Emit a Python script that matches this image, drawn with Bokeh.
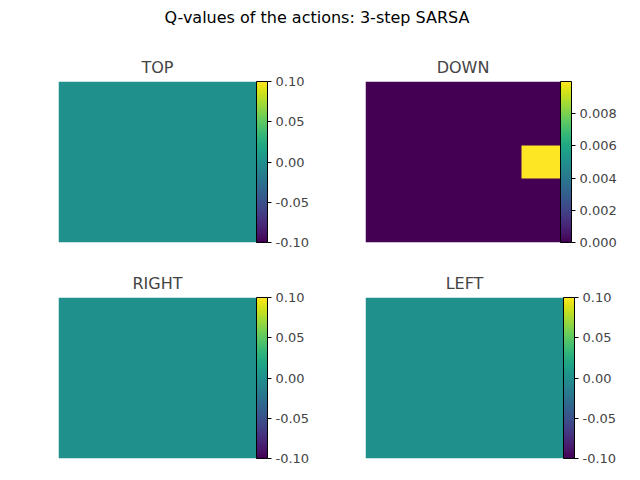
import numpy as np
from bokeh.plotting import figure
from bokeh.models import LinearColorMapper, ColorBar, FixedTicker, PrintfTickFormatter, Div
from bokeh.layouts import column, row
from bokeh.palettes import Viridis256
from bokeh.embed import file_html
from bokeh.resources import INLINE

titles = ["TOP", "DOWN", "RIGHT", "LEFT"]
q_top = np.zeros((5, 5))
q_down = np.zeros((5, 5)); q_down[2, 4] = 0.01
q_right = np.zeros((5, 5))
q_left = np.zeros((5, 5))
grids = [q_top, q_down, q_right, q_left]
lows = [-0.1, 0.0, -0.1, -0.1]
highs = [0.1, 0.01, 0.1, 0.1]
ticks = [[-0.1, -0.05, 0, 0.05, 0.1], [0, 0.002, 0.004, 0.006, 0.008],
         [-0.1, -0.05, 0, 0.05, 0.1], [-0.1, -0.05, 0, 0.05, 0.1]]
fmts = ["%.2f", "%.3f", "%.2f", "%.2f"]

figs = []
for i in range(4):
    left = 58 if i % 2 == 0 else 53
    bottom = 24 if i < 2 else 14
    w = left + 171 + 83
    h = 22 + 170 + bottom
    p = figure(width=w, height=h, x_range=(0, 5), y_range=(0, 5),
               output_backend="svg", toolbar_location=None,
               min_border_left=left, min_border_right=0, min_border_top=0,
               min_border_bottom=bottom, title=titles[i])
    p.title.text_font_size = "16px"
    p.title.text_font_style = "normal"
    p.title.align = "center"
    p.title.text_font = "DejaVu Sans"
    p.axis.visible = False
    p.grid.visible = False
    p.outline_line_color = None
    cm = LinearColorMapper(palette=Viridis256, low=lows[i], high=highs[i])
    p.image(image=[grids[i][::-1]], x=0, y=0, dw=5, dh=5, color_mapper=cm)
    cb = ColorBar(color_mapper=cm, width=11, padding=0, margin=13,
                  ticker=FixedTicker(ticks=ticks[i]),
                  formatter=PrintfTickFormatter(format=fmts[i]),
                  major_label_text_font_size="13px",
                  major_label_text_font="DejaVu Sans",
                  bar_line_color="black", major_tick_line_color="black",
                  major_tick_out=4, major_tick_in=0, label_standoff=4,
                  background_fill_alpha=0)
    p.add_layout(cb, "right")
    figs.append(p)

title = Div(text="Q-values of the actions: 3-step SARSA", width=624, height=40,
            styles={"font-size": "16px", "font-family": "DejaVu Sans", "text-align": "center",
                    "width": "624px", "padding-top": "2px"})
layout = column(title, row(figs[0], figs[1]), row(figs[2], figs[3]), spacing=0)
open("out.html", "w").write(file_html(layout, INLINE))
